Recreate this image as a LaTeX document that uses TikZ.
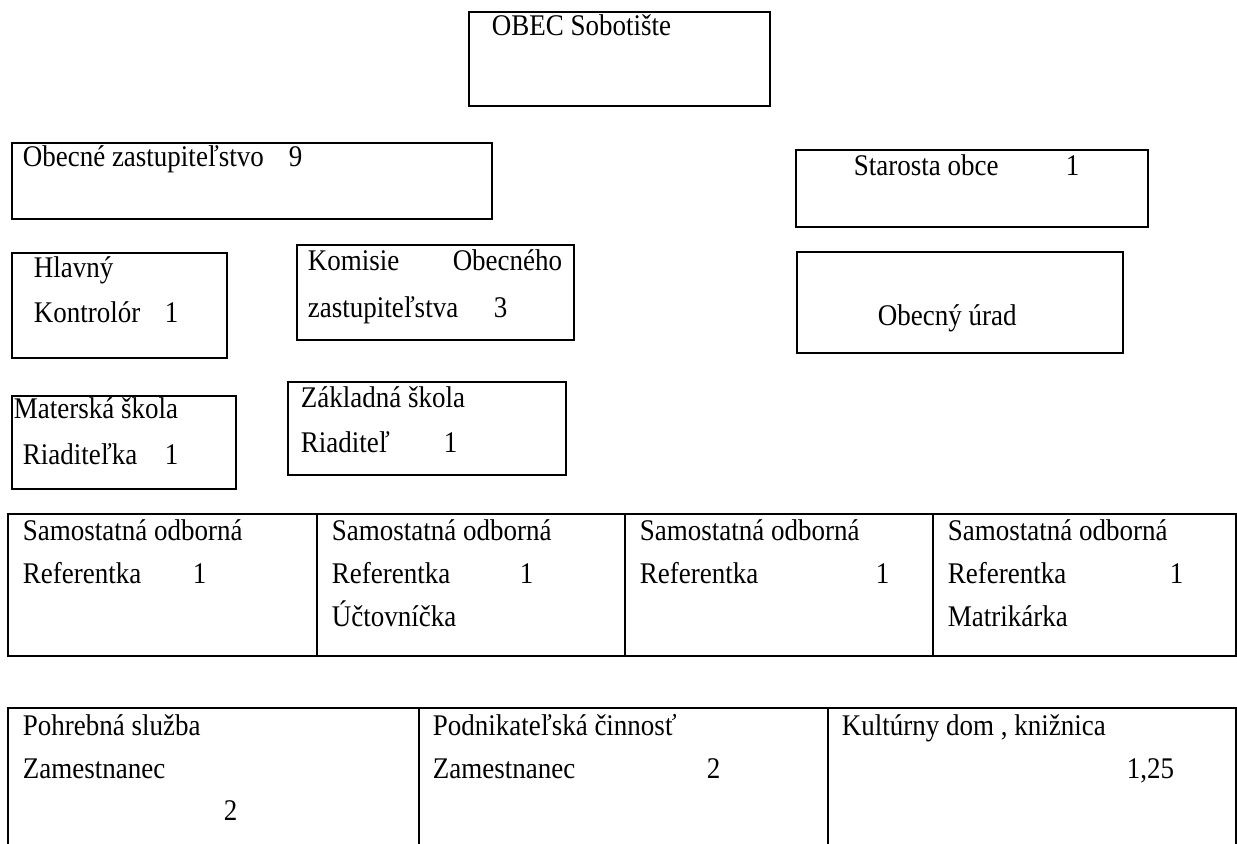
\documentclass[tikz,border=0pt]{standalone}
\usepackage{fontspec}
\setmainfont{Liberation Serif}[FakeStretch=0.9]

\begin{document}
\begin{tikzpicture}[x=0.5pt, y=-0.5pt, line width=0.8pt,
        txt/.style={anchor=base west, inner sep=0pt},
        font=\fontsize{15}{18}\selectfont]
        \useasboundingbox (0, 0) rectangle (1237, 843);
        \clip (0, 0) rectangle (1237, 843);

        % boxes
        \draw (469, 12) rectangle (770, 106);
        \draw (12, 143) rectangle (492, 219);
        \draw (796, 150) rectangle (1148, 227);
        \draw (12, 253) rectangle (227, 358);
        \draw (297, 245) rectangle (574, 340);
        \draw (797, 252) rectangle (1123, 353);
        \draw (12, 396) rectangle (236, 489);
        \draw (288, 382) rectangle (566, 475);

        \draw (8, 514) rectangle (1236, 656);
        \foreach \x in {317, 625, 933}
            {\draw (\x, 514) -- (\x, 656);}

        \draw (8, 708) rectangle (1236, 880);
        \foreach \x in {419, 828}
            {\draw (\x, 708) -- (\x, 880);}

        % top part
        \node (obec) at (491, 35) [txt] {OBEC Sobotište};
        \node (zast) at (22, 166) [txt] {Obecné zastupiteľstvo};
        \node (zastn) at (288, 166) [txt] {9};
        \node (star) at (853, 175) [txt] {Starosta obce};
        \node (starn) at (1065, 175) [txt] {1};
        \node (hlav) at (33, 277) [txt] {Hlavný};
        \node (kontr) at (33, 322) [txt] {Kontrolór};
        \node (kontrn) at (164, 322) [txt] {1};
        \node (kom) at (307, 270) [txt] {Komisie};
        \node (komobec) at (563, 270) [txt, anchor=base east] {Obecného};
        \node (komzast) at (307, 317) [txt] {zastupiteľstva};
        \node (komn) at (493, 317) [txt] {3};
        \node (urad) at (877, 325) [txt] {Obecný úrad};
        \node (ms) at (13, 418) [txt] {Materská škola};
        \node (msr) at (22, 464) [txt] {Riaditeľka};
        \node (msn) at (164, 464) [txt] {1};
        \node (zs) at (300, 407) [txt] {Základná škola};
        \node (zsr) at (300, 452) [txt] {Riaditeľ};
        \node (zsn) at (443, 452) [txt] {1};

        % referentky
        \foreach \x/\n in {22/r1, 331/r2, 639/r3, 947/r4}
            {\node (\n) at (\x, 540) [txt] {Samostatná odborná};
             \node (\n ref) at (\x, 583) [txt] {Referentka};}
        \node (r1n) at (192, 583) [txt] {1};
        \node (r2n) at (519, 583) [txt] {1};
        \node (r3n) at (875, 583) [txt] {1};
        \node (r4n) at (1169, 583) [txt] {1};
        \node (r2u) at (331, 626) [txt] {Účtovníčka};
        \node (r4m) at (947, 626) [txt] {Matrikárka};

        % bottom row
        \node (pohr) at (22, 735) [txt] {Pohrebná služba};
        \node (pohrz) at (22, 778) [txt] {Zamestnanec};
        \node (pohrn) at (223, 820) [txt] {2};
        \node (podn) at (432, 735) [txt] {Podnikateľská činnosť};
        \node (podnz) at (432, 778) [txt] {Zamestnanec};
        \node (podnn) at (706, 778) [txt] {2};
        \node (kult) at (841, 735) [txt] {Kultúrny dom , knižnica};
        \node (kultn) at (1126, 778) [txt] {1,25};
    \end{tikzpicture}
\end{document}
